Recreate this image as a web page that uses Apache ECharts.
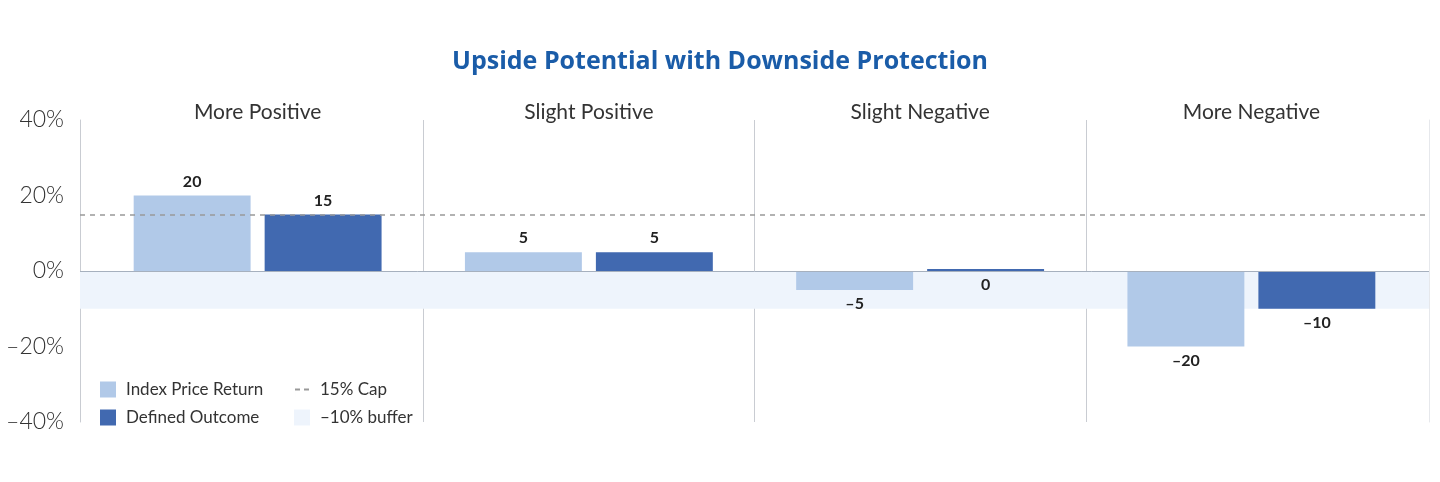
<!DOCTYPE html>
<html>
<head>
<meta charset="utf-8">
<script src="https://cdn.jsdelivr.net/npm/echarts@6/dist/echarts.min.js"></script>
<style>
html,body{margin:0;padding:0;background:#fff;}
#chart{width:1440px;height:482px;}
</style>
</head>
<body>
<div id="chart"></div>
<script>
const titleText = 'Upside Potential with Downside Protection';
const categories = ['More Positive', 'Slight Positive', 'Slight Negative', 'More Negative'];
const indexPriceReturn = [20, 5, -5, -20];
const definedOutcome = [15, 5, 0, -10];
const capLevel = 15;
const bufferLevel = -10;
const yTicks = [-40, -20, 0, 20, 40];

const FONT = 'Lato, "Open Sans", sans-serif';
const LIGHT = '#b1c9e8';
const DARK = '#4169b0';
const BUFFER = '#eef4fc';
const DIVIDER = '#c9ccd2';

function dash(v) { return v < 0 ? '\u2013' + Math.abs(v) : String(v); }

function barData(arr) {
  return arr.map(v => ({
    value: v,
    label: { position: v > 0 ? 'top' : 'bottom' }
  }));
}

const chart = echarts.init(document.getElementById('chart'), null, { renderer: 'canvas' });
const labelStyle = {
  show: true,
  fontFamily: FONT,
  fontWeight: 'bold',
  fontSize: 16,
  color: '#222',
  distance: 6,
  formatter: p => dash(p.value)
};
const legendText = { fontFamily: FONT, fontSize: 17, color: '#333', padding: [0, 0, 0, 5] };

chart.setOption({
  animation: false,
  backgroundColor: '#fff',
  title: {
    text: titleText,
    left: 'center',
    top: 44,
    textStyle: { fontFamily: '"Open Sans", Lato, sans-serif', fontWeight: 'bold', fontSize: 25, color: '#1a5ca8' }
  },
  grid: [
    { left: 80, right: 11, top: 120, bottom: 60, containLabel: false },
    { left: 92, right: 23, top: 120, bottom: 60, containLabel: false }
  ],
  legend: [
    {
      orient: 'vertical',
      left: 100,
      top: 381,
      padding: 0,
      itemWidth: 16,
      itemHeight: 16,
      itemGap: 11,
      selectedMode: false,
      textStyle: legendText,
      data: [
        { name: 'Index Price Return', icon: 'rect' },
        { name: 'Defined Outcome', icon: 'rect' }
      ]
    },
    {
      orient: 'vertical',
      left: 294,
      top: 381,
      padding: 0,
      itemWidth: 16,
      itemHeight: 16,
      itemGap: 11,
      selectedMode: false,
      textStyle: legendText,
      data: [
        { name: '15% Cap', icon: 'path://M0,7H5V9H0Z M9,7H14V9H9Z M0,0H0.01V16H0Z', itemStyle: { color: '#999' } },
        { name: '\u201310% buffer', icon: 'rect', itemStyle: { color: BUFFER } }
      ]
    }
  ],
  xAxis: [
    {
      type: 'category',
      gridIndex: 0,
      data: categories,
      show: false
    },
    {
      type: 'category',
      gridIndex: 1,
      position: 'top',
      data: categories,
      axisLine: { show: false },
      axisTick: { show: false },
      axisLabel: { fontFamily: FONT, fontSize: 21, color: '#333', margin: -3 },
      splitLine: { show: true, showMinLine: false, showMaxLine: false, lineStyle: { color: DIVIDER, width: 1 } }
    }
  ],
  yAxis: [
    {
      type: 'value',
      gridIndex: 0,
      min: -40,
      max: 40,
      interval: 20,
      axisLine: { show: true, lineStyle: { color: DIVIDER } },
      axisTick: { show: false },
      splitLine: { show: false },
      axisLabel: {
        fontFamily: FONT,
        fontWeight: 300,
        fontSize: 23,
        color: '#333',
        margin: 16,
        formatter: v => yTicks.includes(v) ? dash(v) + '%' : ''
      }
    },
    {
      type: 'value',
      gridIndex: 0,
      position: 'right',
      min: -40,
      max: 40,
      interval: 20,
      axisLine: { show: true, lineStyle: { color: '#e6e8ec' } },
      axisTick: { show: false },
      axisLabel: { show: false },
      splitLine: { show: false }
    },
    {
      type: 'value',
      gridIndex: 1,
      min: -40,
      max: 40,
      interval: 20,
      show: false,
      splitLine: { show: false }
    }
  ],
  series: [
    {
      name: '\u201310% buffer',
      type: 'line',
      xAxisIndex: 0,
      yAxisIndex: 0,
      data: [],
      itemStyle: { color: BUFFER },
      z: 0,
      markArea: {
        silent: true,
        itemStyle: { color: BUFFER },
        data: [[{ yAxis: 0 }, { yAxis: bufferLevel }]]
      }
    },
    {
      name: '15% Cap',
      type: 'line',
      xAxisIndex: 0,
      yAxisIndex: 0,
      data: [],
      itemStyle: { color: '#999' },
      z: 1,
      markLine: {
        silent: true,
        symbol: 'none',
        label: { show: false },
        lineStyle: { color: '#999', type: [5, 5], width: 1.5 },
        data: [{ yAxis: capLevel }]
      }
    },
    {
      name: 'zero',
      type: 'line',
      xAxisIndex: 0,
      yAxisIndex: 0,
      data: [],
      z: 1,
      markLine: {
        silent: true,
        symbol: 'none',
        label: { show: false },
        lineStyle: { color: '#a6b0be', type: 'solid', width: 1 },
        data: [{ yAxis: 0 }]
      }
    },
    {
      name: 'Index Price Return',
      type: 'bar',
      xAxisIndex: 1,
      yAxisIndex: 2,
      data: barData(indexPriceReturn),
      barWidth: '35.3%',
      barGap: '12%',
      itemStyle: { color: LIGHT },
      label: labelStyle,
      z: 2
    },
    {
      name: 'Defined Outcome',
      type: 'bar',
      xAxisIndex: 1,
      yAxisIndex: 2,
      data: barData(definedOutcome),
      barWidth: '35.3%',
      barGap: '12%',
      barMinHeight: 2,
      itemStyle: { color: DARK },
      label: labelStyle,
      z: 2
    }
  ]
});
</script>
</body>
</html>
